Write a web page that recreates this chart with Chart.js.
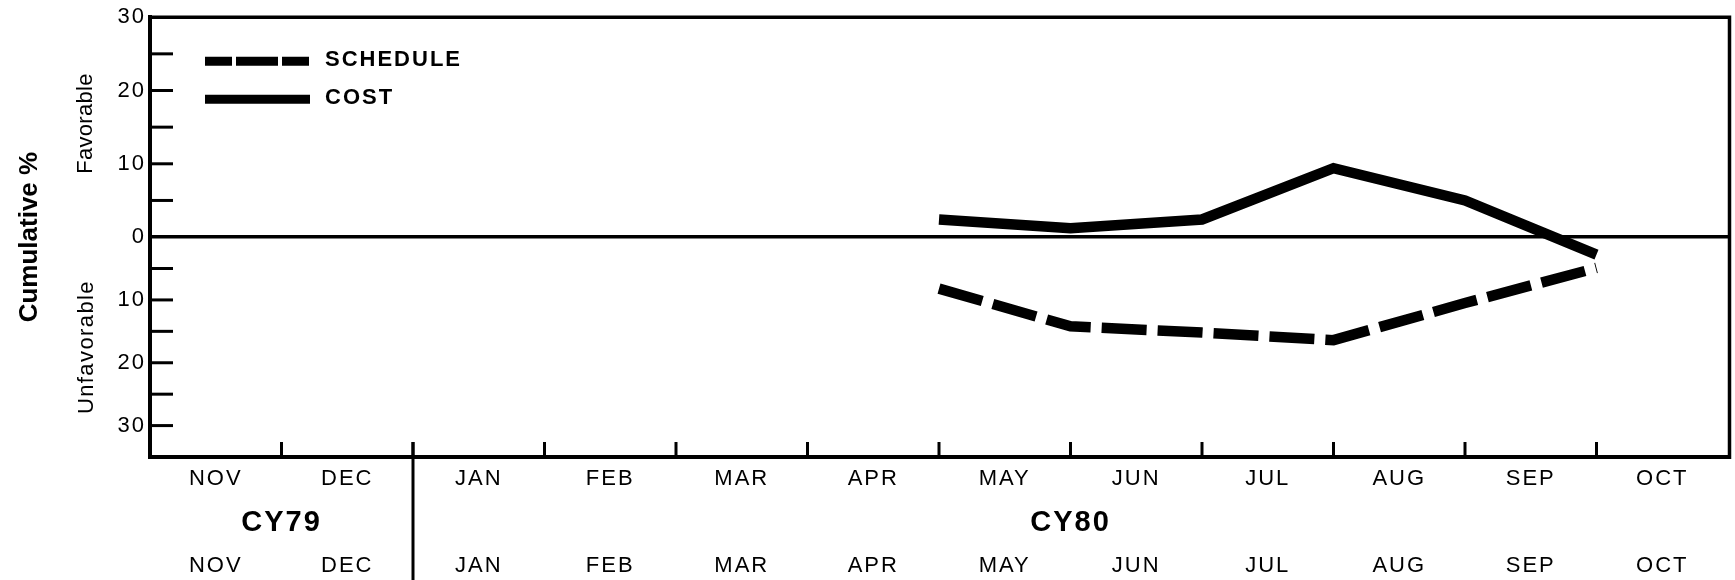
<!DOCTYPE html>
<html>
<head>
<meta charset="utf-8">
<title>Cumulative % variance, CY79-CY80</title>
<script src="https://cdn.jsdelivr.net/npm/chart.js@4.4.1/dist/chart.umd.min.js"></script>
<style>
  html, body { margin: 0; padding: 0; background: #fff; }
  #wrap { width: 1735px; height: 580px; }
</style>
</head>
<body>
<div id="wrap"><canvas id="chart"></canvas></div>
<script>
'use strict';

const months = ['NOV', 'DEC', 'JAN', 'FEB', 'MAR', 'APR', 'MAY', 'JUN', 'JUL', 'AUG', 'SEP', 'OCT'];
const yearLabels = ['CY79', 'CY80'];
const yearStarts = ['NOV', 'JAN'];

// values are read at the end of each month
const reportMonths = ['APR', 'MAY', 'JUN', 'JUL', 'AUG', 'SEP'];
const schedulePct = [-8.2, -14.2, -15.2, -16.4, -10.5, -4.9];
const costPct = [2.4, 1.2, 2.4, 9.4, 5.0, -2.8];

// favorable above zero, unfavorable below
const yMax = 30;
const yMin = -35;
const yStep = 5;

const FONT = '"Liberation Sans", Arial, Helvetica, sans-serif';

/**
 * Linear scale with zero fixed halfway down: the favorable and
 * unfavorable halves each get their own unit size
 */
class SplitLinearScale extends Chart.LinearScale {
	_zeroPixel() {
		return (this.top + this.bottom) / 2;
	}

	getPixelForValue(value) {
		if (value === null || value === undefined || isNaN(value)) {
			return NaN;
		}

		const zero = this._zeroPixel();

		if (value >= 0) {
			return zero - value / this.max * (zero - this.top);
		}

		return zero + value / this.min * (this.bottom - zero);
	}

	getValueForPixel(pixel) {
		const zero = this._zeroPixel();

		if (pixel <= zero) {
			return (zero - pixel) / (zero - this.top) * this.max;
		}

		return (pixel - zero) / (this.bottom - zero) * this.min;
	}
}

SplitLinearScale.id = 'splitLinear';
SplitLinearScale.defaults = Chart.LinearScale.defaults;
Chart.register(SplitLinearScale);

const toPoints = (values) => values.map((y, i) => ({x: months.indexOf(reportMonths[i]) + 1, y}));

const monthCenters = months.map((m, i) => i + 0.5);

const yearCenters = yearStarts.map((m, i) => {
	const from = months.indexOf(m),
		to = i + 1 < yearStarts.length ? months.indexOf(yearStarts[i + 1]) : months.length;

	return (from + to) / 2;
});

const legendDash = [27, 4, 42, 4];

function drawVerticalText(ctx, text, font, x, y, spacing) {
	ctx.save();
	ctx.translate(x, y);
	ctx.rotate(-Math.PI / 2);
	ctx.font = font;
	ctx.letterSpacing = spacing;
	ctx.textAlign = 'center';
	ctx.textBaseline = 'alphabetic';
	ctx.fillStyle = '#000';
	ctx.fillText(text, 0, 0);
	ctx.restore();
}

const chartDecor = {
	id: 'chartDecor',

	beforeUpdate(chart) {
		chart.ctx.letterSpacing = '2px';
	},

	beforeDraw(chart) {
		chart.ctx.letterSpacing = '2px';
	},

	afterDraw(chart) {
		const
			{ctx, chartArea: {left, right, top, bottom}} = chart,
			xs = chart.scales.x,
			ys = chart.scales.y;

		ctx.save();
		ctx.strokeStyle = '#000';
		ctx.lineCap = 'butt';

		// frame: top and right edges
		ctx.lineWidth = 3.5;
		ctx.beginPath();
		ctx.moveTo(left, top);
		ctx.lineTo(right + 1.5, top);
		ctx.lineTo(right + 1.5, bottom + 2);
		ctx.stroke();

		// inward tick marks on the value axis
		ctx.lineWidth = 3;
		ys.ticks.forEach((t) => {
			if (t.value === 0 || t.value >= yMax || t.value <= yMin) {
				return;
			}

			const y = ys.getPixelForValue(t.value);
			ctx.beginPath();
			ctx.moveTo(left, y);
			ctx.lineTo(left + 23, y);
			ctx.stroke();
		});

		// month boundaries
		for (let i = 1; i < months.length; i++) {
			const x = xs.getPixelForValue(i);
			ctx.beginPath();
			ctx.moveTo(x, bottom);
			ctx.lineTo(x, bottom - 15);
			ctx.stroke();
		}

		// year separator runs down through the label rows
		yearStarts.slice(1).forEach((m) => {
			const x = xs.getPixelForValue(months.indexOf(m));
			ctx.beginPath();
			ctx.moveTo(x, bottom - 15);
			ctx.lineTo(x, chart.height);
			ctx.stroke();
		});
		ctx.restore();

		drawVerticalText(ctx, 'Cumulative %', 'bold 26px ' + FONT, 37, (top + bottom) / 2, '0px');
		drawVerticalText(ctx, 'Favorable', '22px ' + FONT, 92, ys.getPixelForValue(15.5), '0.3px');
		drawVerticalText(ctx, 'Unfavorable', '22px ' + FONT, 93, ys.getPixelForValue(-17.5), '1.4px');

		// legend
		chart.data.datasets.forEach((ds, i) => {
			const y = top + 44 + i * 38;

			ctx.save();
			ctx.strokeStyle = ds.borderColor;
			ctx.lineWidth = 9;
			ctx.lineCap = 'butt';
			ctx.setLineDash(ds.borderDash ? legendDash : []);
			ctx.beginPath();
			ctx.moveTo(left + 55, y);
			ctx.lineTo(left + 160, y);
			ctx.stroke();

			ctx.setLineDash([]);
			ctx.font = 'bold 22px ' + FONT;
			ctx.letterSpacing = '2px';
			ctx.fillStyle = '#000';
			ctx.textBaseline = 'middle';
			ctx.fillText(ds.label, left + 175, y - 1.5);
			ctx.restore();
		});
	}
};

const hiddenGrid = {display: false, drawTicks: false};

new Chart(document.getElementById('chart'), {
	type: 'line',
	data: {
		datasets: [
			{
				label: 'SCHEDULE',
				data: toPoints(schedulePct),
				borderColor: '#000',
				borderWidth: 10.5,
				borderDash: [45, 11],
				borderCapStyle: 'butt',
				borderJoinStyle: 'miter',
				pointRadius: 0,
				tension: 0,
				fill: false
			},
			{
				label: 'COST',
				data: toPoints(costPct),
				borderColor: '#000',
				borderWidth: 10.5,
				borderCapStyle: 'butt',
				borderJoinStyle: 'miter',
				pointRadius: 0,
				tension: 0,
				fill: false
			}
		]
	},
	options: {
		responsive: true,
		maintainAspectRatio: false,
		animation: false,
		events: [],
		layout: {padding: {top: 15, right: 7, left: 0, bottom: 0}},
		plugins: {
			legend: {display: false},
			tooltip: {enabled: false}
		},
		scales: {
			x: {
				type: 'linear',
				position: 'bottom',
				min: 0,
				max: months.length,
				grid: hiddenGrid,
				border: {display: true, color: '#000', width: 4},
				afterBuildTicks: (scale) => {
					scale.ticks = monthCenters.map((value) => ({value}));
				},
				afterFit: (scale) => {
					scale.height = 42;
				},
				ticks: {
					autoSkip: false,
					maxRotation: 0,
					padding: 9,
					color: '#000',
					font: {family: FONT, size: 22},
					callback: (v, i) => months[i]
				}
			},
			x2: {
				type: 'linear',
				position: 'bottom',
				min: 0,
				max: months.length,
				grid: hiddenGrid,
				border: {display: false},
				afterBuildTicks: (scale) => {
					scale.ticks = yearCenters.map((value) => ({value}));
				},
				afterFit: (scale) => {
					scale.height = 42;
				},
				ticks: {
					autoSkip: false,
					maxRotation: 0,
					padding: 7,
					color: '#000',
					font: {family: FONT, size: 29, weight: 'bold'},
					callback: (v, i) => yearLabels[i]
				}
			},
			x3: {
				type: 'linear',
				position: 'bottom',
				min: 0,
				max: months.length,
				grid: hiddenGrid,
				border: {display: false},
				afterBuildTicks: (scale) => {
					scale.ticks = monthCenters.map((value) => ({value}));
				},
				afterFit: (scale) => {
					scale.height = 39;
				},
				ticks: {
					autoSkip: false,
					maxRotation: 0,
					padding: 12,
					color: '#000',
					font: {family: FONT, size: 22},
					callback: (v, i) => months[i]
				}
			},
			y: {
				type: 'splitLinear',
				position: 'left',
				min: yMin,
				max: yMax,
				afterFit: (scale) => {
					scale.width = 150;
				},
				grid: {
					drawTicks: false,
					color: (c) => (c.tick && c.tick.value === 0 ? '#000' : 'rgba(0,0,0,0)'),
					lineWidth: (c) => (c.tick && c.tick.value === 0 ? 3.5 : 0)
				},
				border: {display: true, color: '#000', width: 4},
				ticks: {
					stepSize: yStep,
					maxTicksLimit: 20,
					autoSkip: false,
					padding: 4,
					color: '#000',
					font: {family: FONT, size: 22},
					callback: (v) => (v % 10 === 0 ? String(Math.abs(v)) : '')
				}
			}
		}
	},
	plugins: [chartDecor]
});
</script>
</body>
</html>
